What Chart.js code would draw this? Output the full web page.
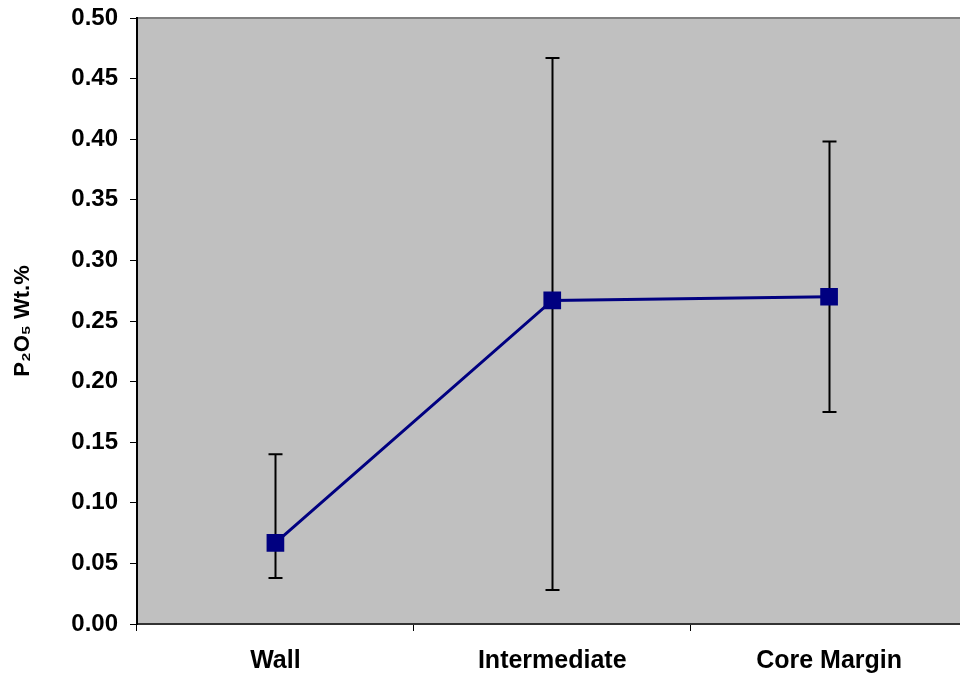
<!DOCTYPE html>
<html>
<head>
<meta charset="utf-8">
<script src="https://cdn.jsdelivr.net/npm/chart.js@4.4.0/dist/chart.umd.min.js"></script>
<style>
  html, body { margin: 0; padding: 0; background: #fff; overflow: hidden; }
  #wrap { width: 980px; height: 673px; }
</style>
</head>
<body>
<div id="wrap"><canvas id="chart" width="980" height="673"></canvas></div>
<script>
// Data
const categories = ["Wall", "Intermediate", "Core Margin"];
const meanValues = [0.067, 0.267, 0.270];
const errLow = [0.038, 0.028, 0.175];
const errHigh = [0.140, 0.467, 0.398];
const yTicks = [0, 0.05, 0.1, 0.15, 0.2, 0.25, 0.3, 0.35, 0.4, 0.45, 0.5];

// Plot area background + top border
const plotBackground = {
  id: "plotBackground",
  beforeDraw(chart) {
    const { ctx, chartArea: a } = chart;
    ctx.save();
    ctx.fillStyle = "#C0C0C0";
    ctx.fillRect(a.left, a.top, a.right - a.left, a.bottom - a.top);
    ctx.strokeStyle = "#808080";
    ctx.lineWidth = 2;
    ctx.beginPath();
    ctx.moveTo(a.left, a.top);
    ctx.lineTo(a.right, a.top);
    ctx.stroke();
    ctx.restore();
  },
};

// Error bars, drawn under the markers
const errorBars = {
  id: "errorBars",
  beforeDatasetsDraw(chart) {
    const { ctx, scales } = chart;
    const meta = chart.getDatasetMeta(0);
    ctx.save();
    ctx.strokeStyle = "#000";
    ctx.lineWidth = 2;
    meta.data.forEach((pt, i) => {
      const x = Math.round(pt.x) + 0.5;
      const yLo = scales.y.getPixelForValue(errLow[i]);
      const yHi = scales.y.getPixelForValue(errHigh[i]);
      ctx.beginPath();
      ctx.moveTo(x, yLo);
      ctx.lineTo(x, yHi);
      ctx.moveTo(x - 7, yLo);
      ctx.lineTo(x + 7, yLo);
      ctx.moveTo(x - 7, yHi);
      ctx.lineTo(x + 7, yHi);
      ctx.stroke();
    });
    ctx.restore();
  },
};

const ctx = document.getElementById("chart").getContext("2d");
const chart = new Chart(ctx, {
  type: "line",
  data: {
    labels: categories,
    datasets: [
      {
        data: meanValues,
        borderColor: "#000080",
        backgroundColor: "#000080",
        borderWidth: 3,
        pointStyle: "rect",
        pointRadius: 12.5,
        pointBorderWidth: 0,
        pointBackgroundColor: "#000080",
        tension: 0,
      },
    ],
  },
  options: {
    responsive: false,
    animation: false,
    layout: { padding: { top: 18, right: 0, left: 0, bottom: 0 } },
    plugins: {
      legend: { display: false },
      tooltip: { enabled: false },
    },
    scales: {
      x: {
        type: "category",
        offset: true,
        grid: {
          offset: true,
          drawOnChartArea: false,
          tickLength: 7,
          color: "#000",
          tickColor: "#000",
        },
        border: { color: "#333", width: 2 },
        ticks: {
          color: "#000",
          padding: 15,
          font: { family: "Liberation Sans, Arial, sans-serif", size: 25, weight: "bold" },
        },
        afterFit(scale) {
          scale.height = 49;
          scale.paddingLeft = 0;
          scale.paddingRight = 0;
        },
      },
      y: {
        min: 0,
        max: 0.5,
        afterBuildTicks(scale) {
          scale.ticks = yTicks.map((v) => ({ value: v }));
        },
        grid: {
          drawOnChartArea: false,
          tickLength: 7,
          tickColor: "#000",
        },
        border: { color: "#000", width: 2 },
        ticks: {
          color: "#000",
          padding: 12,
          callback: (v) => Number(v).toFixed(2),
          font: { family: "Liberation Sans, Arial, sans-serif", size: 24, weight: "bold" },
        },
        title: {
          display: true,
          text: "P₂O₅ Wt.%",
          color: "#000",
          padding: { top: 10, bottom: 14 },
          font: { family: "Liberation Sans, Arial, sans-serif", size: 22, weight: "bold" },
        },
        afterFit(scale) {
          scale.width = 137;
          scale.paddingTop = 0;
          scale.paddingBottom = 0;
        },
      },
    },
  },
  plugins: [plotBackground, errorBars],
});
</script>
</body>
</html>
